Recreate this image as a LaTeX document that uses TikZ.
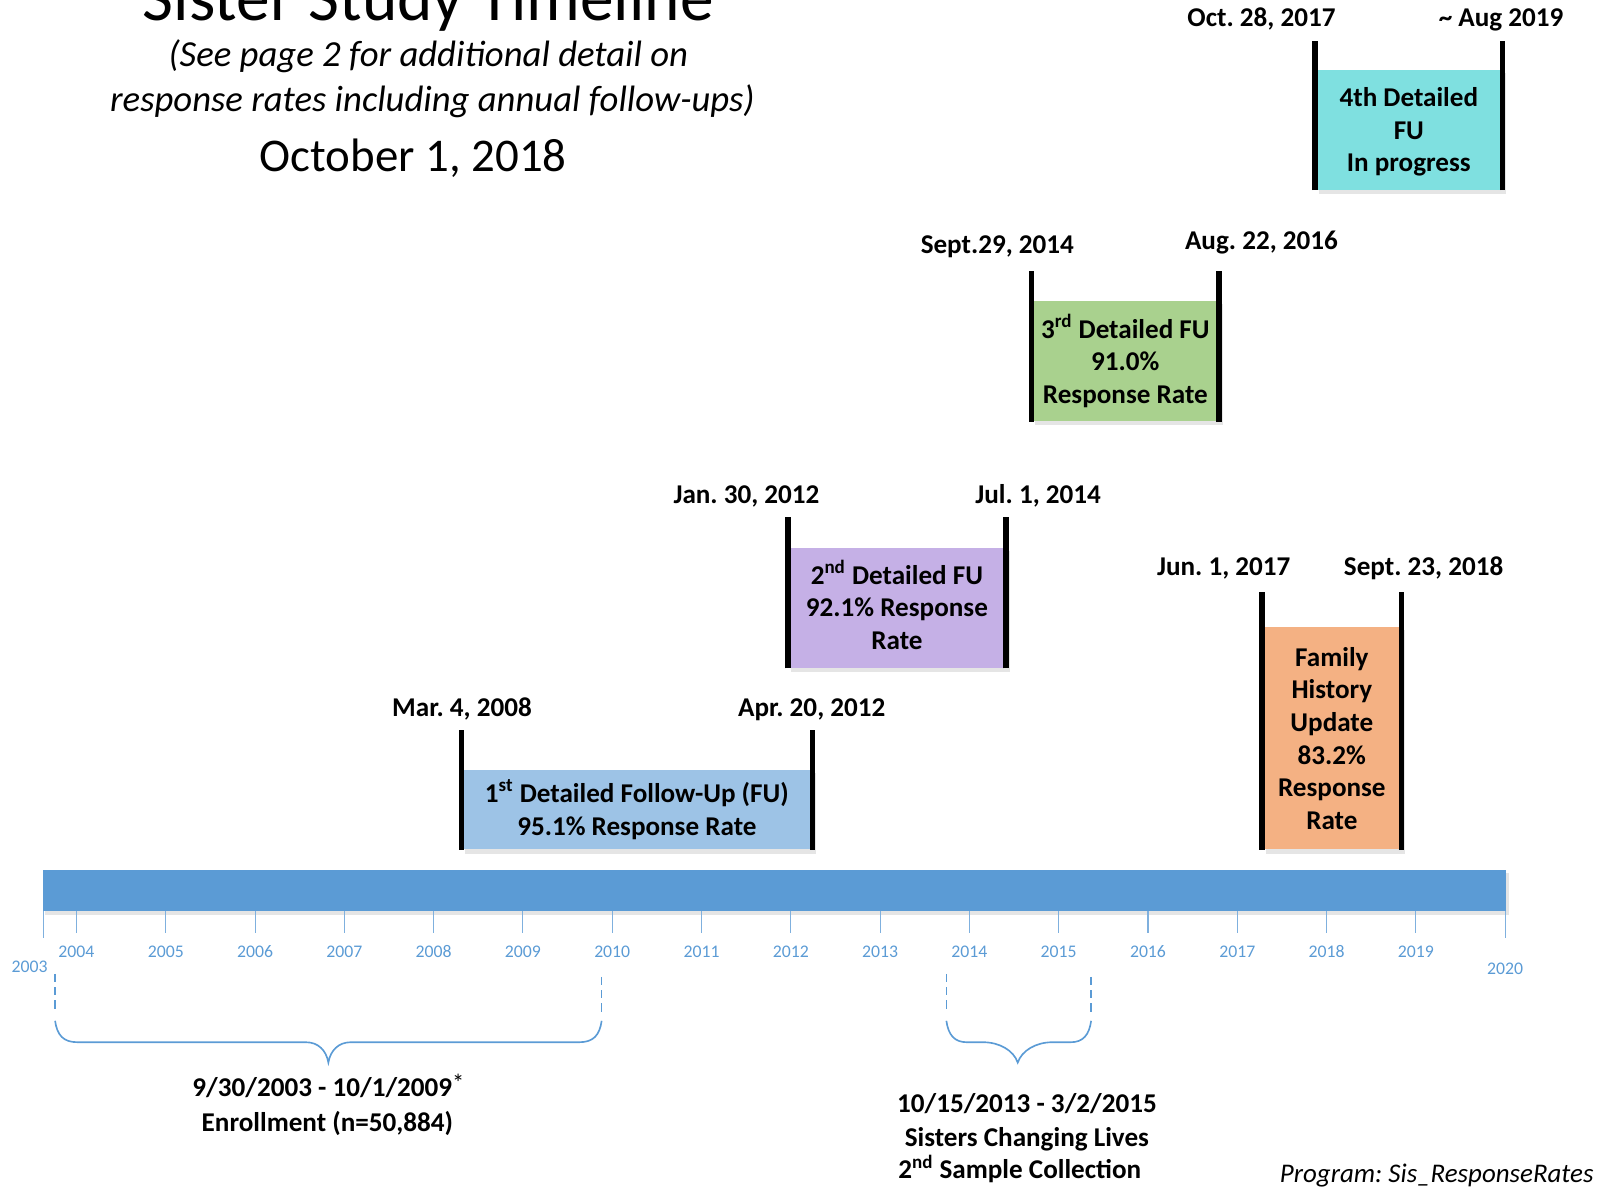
\documentclass[tikz,border=0pt]{standalone}
\usepackage{fontspec}
\setmainfont{Carlito}
\usetikzlibrary{calc,fit}
\definecolor{axisblue}{HTML}{5B9BD5}
\definecolor{tickblue}{HTML}{7FB0DE}
\definecolor{fublue}{HTML}{9DC3E6}
\definecolor{fupurple}{HTML}{C5B0E6}
\definecolor{fugreen}{HTML}{A9D18E}
\definecolor{fucyan}{HTML}{7FE0E0}
\definecolor{fuorange}{HTML}{F4B183}
\frenchspacing
\begin{document}
\begin{tikzpicture}[x=0.5pt,y=-0.5pt,
  datelab/.style={font=\fontsize{13.3}{16}\selectfont\bfseries, anchor=base, inner sep=0},
  fubox/.style={inner sep=0},
  futext/.style={inner sep=0, align=center, font=\fontsize{13.3}{16}\selectfont\bfseries},
  vbar/.style={line width=2.6pt, black},
  yearlab/.style={font=\fontsize{8.7}{10}\selectfont, text=axisblue, anchor=base, inner sep=0},
  tickline/.style={tickblue, line width=0.5pt},
  bracepath/.style={axisblue, line width=0.8pt},
  bdash/.style={axisblue, line width=0.8pt, dash pattern=on 4pt off 2.5pt},
  lab/.style={font=\fontsize{13.3}{16}\selectfont\bfseries, anchor=base, inner sep=0},
  shade/.style={fill=black, opacity=0.10}
]
\useasboundingbox (0,0) rectangle (1568,1164);

% titles
\node[anchor=base, inner sep=0, font=\fontsize{33}{40}\selectfont] (title) at (420,20) {Sister Study Timeline};
\node[anchor=base, inner sep=0, font=\fontsize{18}{22}\selectfont\itshape] (sub1) at (420,65) {(See page 2 for additional detail on};
\node[anchor=base, inner sep=0, font=\fontsize{18}{22}\selectfont\itshape] (sub2) at (424,109) {response rates including annual follow-ups)};
\node[anchor=base, inner sep=0, font=\fontsize{23}{28}\selectfont] (when) at (405,168) {October 1, 2018};

% axis
\fill[shade] (44,856) rectangle (1480,897);
\fill[axisblue] (42,853) rectangle (1477,893);
\draw[tickline] (43,893) -- (43,920);
\draw[tickline] (1476,893) -- (1476,920);
\foreach \yr [count=\i from 0] in {2004,...,2019} {
  \draw[tickline] ({75+\i*87.56},893) -- ++(0,22);
  \node[yearlab] (y\yr) at ({75+\i*87.56},938.5) {\yr};
}
\node[yearlab] (y2003) at (29,954) {2003};
\node[yearlab] (y2020) at (1476,956) {2020};

% box 1
\fill[shade] (456,758) rectangle (800,837);
\node[fubox, fill=fublue, fit={(453,755) (796,833)}] (b1) {};
\node[futext] (t1) at (b1.center) {1\textsuperscript{st} Detailed Follow-Up (FU)\\95.1\% Response Rate};
\draw[vbar] (b1.south west) -- ++(0,-118);
\draw[vbar] (b1.south east) -- ++(0,-118);
\node[datelab] (d1a) at (453,703) {Mar. 4, 2008};
\node[datelab] (d1b) at (796,703) {Apr. 20, 2012};

% box 2
\fill[shade] (776,540) rectangle (990,659);
\node[fubox, fill=fupurple, fit={(773,537) (986,655)}] (b2) {};
\node[futext] (t2) at ($(b2.center)+(0,-3)$) {2\textsuperscript{nd} Detailed FU\\92.1\% Response\\Rate};
\draw[vbar] (b2.south west) -- ++(0,-148);
\draw[vbar] (b2.south east) -- ++(0,-148);
\node[datelab] (d2a) at (732,494) {Jan. 30, 2012};
\node[datelab] (d2b) at (1018,494) {Jul. 1, 2014};

% box 3
\fill[shade] (1015,298) rectangle (1199,417);
\node[fubox, fill=fugreen, fit={(1012,295) (1195,413)}] (b3) {};
\node[futext] (t3) at (b3.center) {3\textsuperscript{rd} Detailed FU\\91.0\%\\Response Rate};
\draw[vbar] (b3.south west) -- ++(0,-148);
\draw[vbar] (b3.south east) -- ++(0,-148);
\node[datelab] (d3a) at (978,249) {Sept.29, 2014};
\node[datelab] (d3b) at (1237,245) {Aug. 22, 2016};

% box 4
\fill[shade] (1293,72) rectangle (1477,190);
\node[fubox, fill=fucyan, fit={(1290,69) (1473,186)}] (b4) {};
\node[futext] (t4) at ($(b4.center)+(0,2)$) {4th Detailed\\FU\\In progress};
\draw[vbar] (b4.south west) -- ++(0,-146);
\draw[vbar] (b4.south east) -- ++(0,-146);
\node[datelab] (d4a) at (1237,26) {Oct. 28, 2017};
\node[datelab] (d4b) at (1472,26) {\char`~\ Aug 2019};

% box 5
\fill[shade] (1241,618) rectangle (1378,837);
\node[fubox, fill=fuorange, fit={(1238,615) (1374,833)}] (b5) {};
\node[futext] (t5) at (b5.center) {Family\\History\\Update\\83.2\%\\Response\\Rate};
\draw[vbar] (b5.south west) -- ++(0,-253);
\draw[vbar] (b5.south east) -- ++(0,-253);
\node[datelab] (d5a) at (1200,564) {Jun. 1, 2017};
\node[datelab] (d5b) at (1396,564) {Sept. 23, 2018};

% enrollment brace
\coordinate (e1) at (54,955);
\coordinate (e2) at (590,958);
\draw[bdash] (e1) -- ++(0,38);
\draw[bdash] (e2) -- ++(0,37);
\draw[bracepath] (54,1001) .. controls (56,1015) and (62,1022) .. (76,1022)
  -- (300,1022) .. controls (312,1022) and (320,1030) .. (322,1042)
  .. controls (324,1030) and (332,1022) .. (344,1022)
  -- (568,1022) .. controls (582,1022) and (588,1015) .. (590,1001);
\node[lab] (en1) at (322,1075) {9/30/2003 - 10/1/2009\raisebox{2.5pt}{\mdseries\fontsize{12}{12}\selectfont *}};
\node[lab] (en2) at (321,1110) {Enrollment (n=50,884)};

% sample collection brace
\coordinate (s1) at (928,955);
\coordinate (s2) at (1070,958);
\draw[bdash] (s1) -- ++(0,38);
\draw[bdash] (s2) -- ++(0,37);
\draw[bracepath] (928,1001) .. controls (930,1015) and (936,1022) .. (948,1022)
  -- (964,1022) .. controls (980,1022) and (994,1030) .. (998,1042)
  .. controls (1002,1030) and (1016,1022) .. (1032,1022)
  -- (1050,1022) .. controls (1062,1022) and (1068,1015) .. (1070,1001);
\node[lab] (sc1) at (1007,1091) {10/15/2013 - 3/2/2015};
\node[lab] (sc2) at (1007,1124) {Sisters Changing Lives};
\node[lab] (sc3) at (1000,1156) {2\textsuperscript{nd} Sample Collection};

\node[anchor=base east, inner sep=0, font=\fontsize{13.2}{16}\selectfont\itshape] (prog) at (1563,1160) {Program: Sis\_ResponseRates};
\end{tikzpicture}
\end{document}
